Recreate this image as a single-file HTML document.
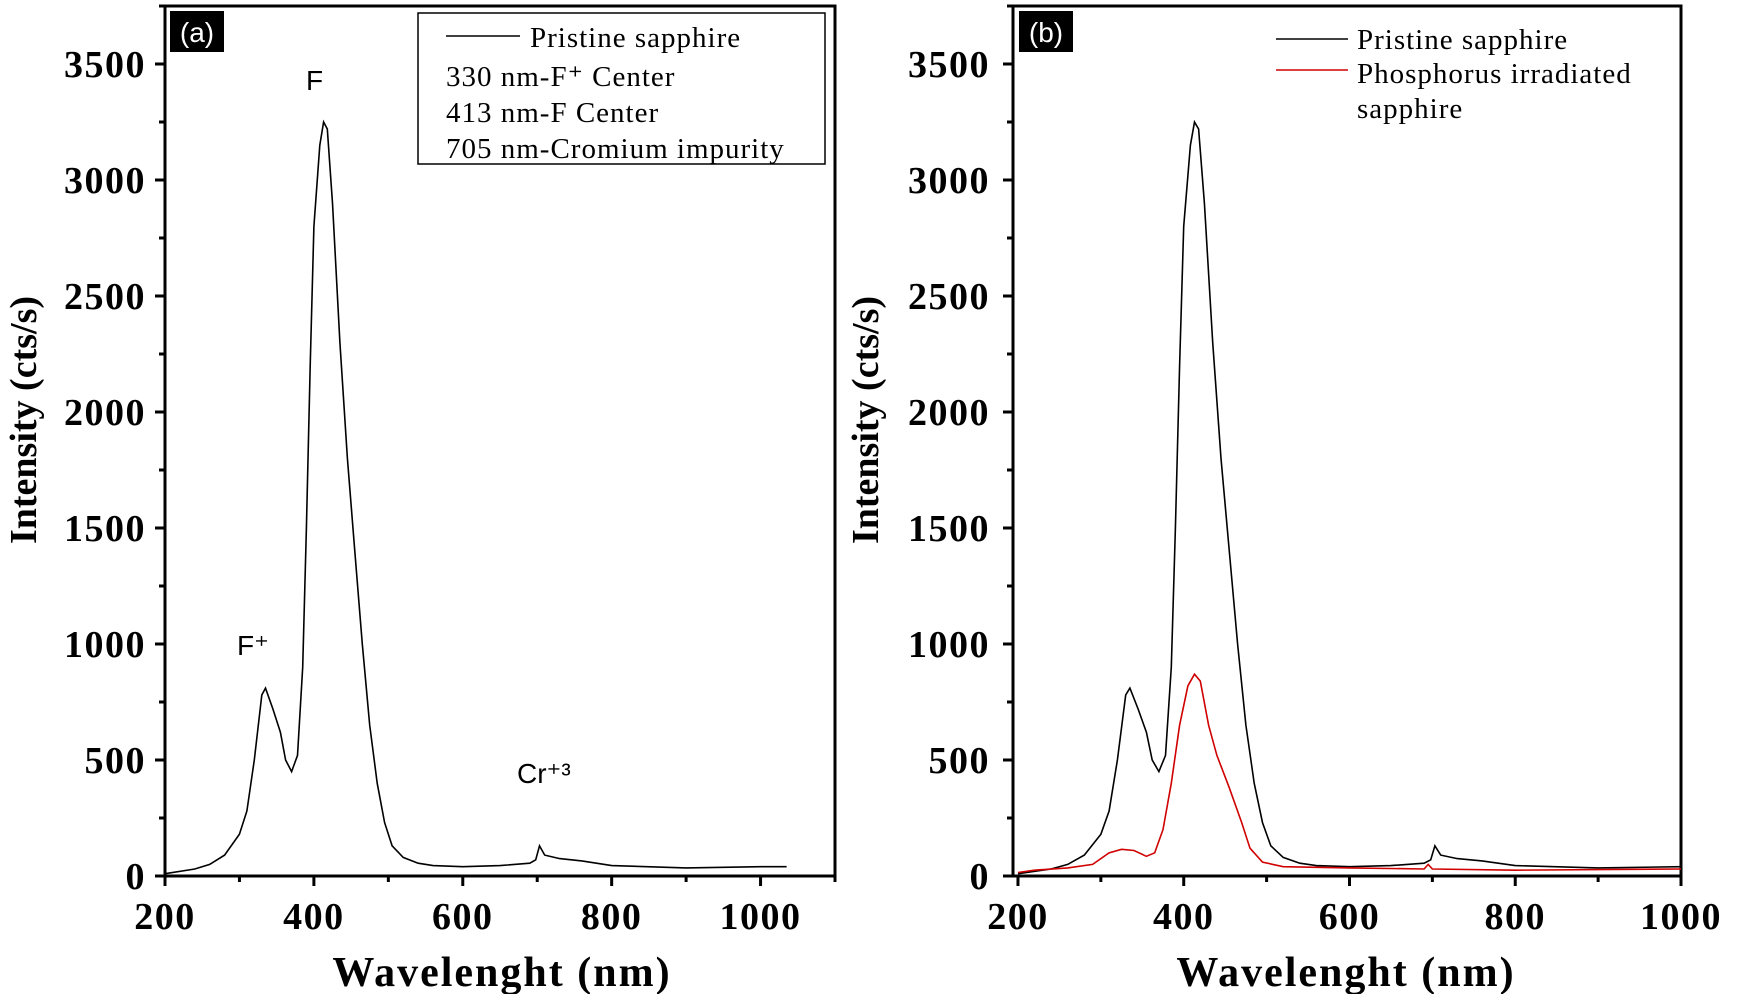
<!DOCTYPE html>
<html><head><meta charset="utf-8"><style>
body{margin:0;background:#fff;width:1750px;height:994px;overflow:hidden}
svg{display:block}
.tk{font-family:"Liberation Serif",serif;font-weight:bold;font-size:38px;letter-spacing:1.5px;fill:#000}
.ti{font-family:"Liberation Serif",serif;font-weight:bold;font-size:42px;letter-spacing:2px;fill:#000}
.yt{font-family:"Liberation Serif",serif;font-weight:bold;font-size:38px;fill:#000}
.lg{font-family:"Liberation Serif",serif;font-size:29px;letter-spacing:1px;fill:#000}
.an{font-family:"Liberation Sans",sans-serif;font-size:28px;fill:#000}
</style></head><body>
<svg id="c" width="1750" height="994" xmlns="http://www.w3.org/2000/svg"></svg>
<script>
const pristineX=[200,240,260,280,300,310,320,330,335,345,355,362,370,378,385,390,395,400,408,413,418,425,435,445,455,465,475,485,495,505,520,540,560,600,650,690,698,703,710,730,760,800,900,1000,1035];
const pristineY=[10,30,50,90,180,280,500,780,810,720,620,500,450,520,900,1500,2200,2800,3150,3250,3220,2900,2300,1800,1400,1000,650,400,230,130,80,55,45,40,45,55,70,130,90,75,65,45,35,40,40];
const redX=[200,220,260,290,310,325,340,355,365,375,385,395,405,413,420,430,440,455,470,480,495,520,600,690,695,700,800,1000];
const redY=[15,25,35,50,100,115,110,85,100,200,400,650,820,870,840,650,520,380,230,120,60,40,35,30,50,30,25,30];
const xTicks=[200,400,600,800,1000];
const yTicks=[0,500,1000,1500,2000,2500,3000,3500];
const NS="http://www.w3.org/2000/svg";
const svg=document.getElementById('c');
function el(t,a,p){const e=document.createElementNS(NS,t);for(const k in a)e.setAttribute(k,a[k]);(p||svg).appendChild(e);return e;}
function panel(cfg){
  const g=el('g',{});
  
  
  const X=v=>cfg.L+(v-cfg.x0)/(cfg.x1-cfg.x0)*(cfg.R-cfg.L);
  const Y=v=>cfg.B-v/3750*(cfg.B-cfg.T);
  const fr=el('rect',{x:cfg.L,y:cfg.T,width:cfg.R-cfg.L,height:cfg.B-cfg.T,fill:'none',stroke:'#000','stroke-width':3},g);
  
  for(let v=200;v<=cfg.x1;v+=100){const x=X(v);const major=v%200===0;el('line',{x1:x,x2:x,y1:cfg.B,y2:cfg.B+(major?10:6),stroke:'#000','stroke-width':3},g);}
  xTicks.forEach(v=>{const t=el('text',{x:X(v),y:929,'text-anchor':'middle',class:'tk'},g);t.textContent=v;});
  for(let v=0;v<=3750;v+=250){const y=Y(v);el('line',{x1:cfg.L,x2:cfg.L-(v%500===0?10:6),y1:y,y2:y,stroke:'#000','stroke-width':3},g);}
  yTicks.forEach(v=>{const t=el('text',{x:cfg.ylx,y:Y(v)+13,'text-anchor':'end',class:'tk'},g);t.textContent=v;});
  const xt=el('text',{x:cfg.xtx,y:986,'text-anchor':'middle',class:'ti'},g);xt.textContent='Wavelenght (nm)';
  
  const yt=el('text',{x:0,y:0,'text-anchor':'middle',class:'yt',transform:`translate(${cfg.ytx},420) rotate(-90)`},g);yt.textContent='Intensity (cts/s)';
  
  const clip='clip'+cfg.name;const cp=el('clipPath',{id:clip},g);el('rect',{x:cfg.L,y:cfg.T,width:cfg.R-cfg.L,height:cfg.B-cfg.T},cp);
  cfg.series.forEach(s=>{
    const d=s.x.map((v,i)=>(i?'L':'M')+X(v).toFixed(1)+','+Y(s.y[i]).toFixed(1)).join(' ');
    const p=el('path',{d:d,fill:'none',stroke:s.c,'stroke-width':1.6,'clip-path':`url(#${clip})`},g);
    
  });
  const lb=el('rect',{x:cfg.lbx,y:11,width:54,height:41,fill:'#000'},g);
  
  const lt=el('text',{x:cfg.lbx+27,y:42,'text-anchor':'middle',fill:'#fff','font-family':'Liberation Sans,sans-serif','font-size':28},g);lt.textContent=cfg.label;
  
  return {g,X,Y};
}
const a=panel({name:'panel-a',L:165,R:835,T:6,B:876,x0:200,x1:1100,xtx:502,ytx:36,ylx:146,lbx:170,label:'(a)',
  series:[{x:pristineX,y:pristineY,c:'#000',n:'pristine-line'}]});
const lgA=el('g',{},a.g);
el('rect',{x:418,y:13,width:407,height:151,fill:'#fff',stroke:'#000','stroke-width':1.5},lgA);
el('line',{x1:446,x2:520,y1:36,y2:36,stroke:'#000','stroke-width':1.5},lgA);
[['Pristine sapphire',530,47],['330 nm-F⁺ Center',446,86],['413 nm-F Center',446,122],['705 nm-Cromium impurity',446,158]].forEach(r=>{const t=el('text',{x:r[1],y:r[2],class:'lg'},lgA);t.textContent=r[0];});
[['F',306,90],['F⁺',237,655],['Cr⁺³',517,783]].forEach(r=>{const t=el('text',{x:r[1],y:r[2],class:'an'},a.g);t.textContent=r[0];});
const b=panel({name:'panel-b',L:1013,R:1681,T:6,B:876,x0:194,x1:1000,xtx:1346,ytx:878,ylx:990,lbx:1019,label:'(b)',
  series:[{x:pristineX,y:pristineY,c:'#000',n:'pristine-line'},{x:redX,y:redY,c:'#d00000',n:'phosphorus-line'}]});
const lgB=el('g',{},b.g);
el('line',{x1:1276,x2:1348,y1:39,y2:39,stroke:'#000','stroke-width':1.5},lgB);
el('line',{x1:1276,x2:1348,y1:70,y2:70,stroke:'#d00000','stroke-width':1.5},lgB);
[['Pristine sapphire',1357,49],['Phosphorus irradiated',1357,83],['sapphire',1357,118]].forEach(r=>{const t=el('text',{x:r[1],y:r[2],class:'lg'},lgB);t.textContent=r[0];});
</script>
</body></html>
